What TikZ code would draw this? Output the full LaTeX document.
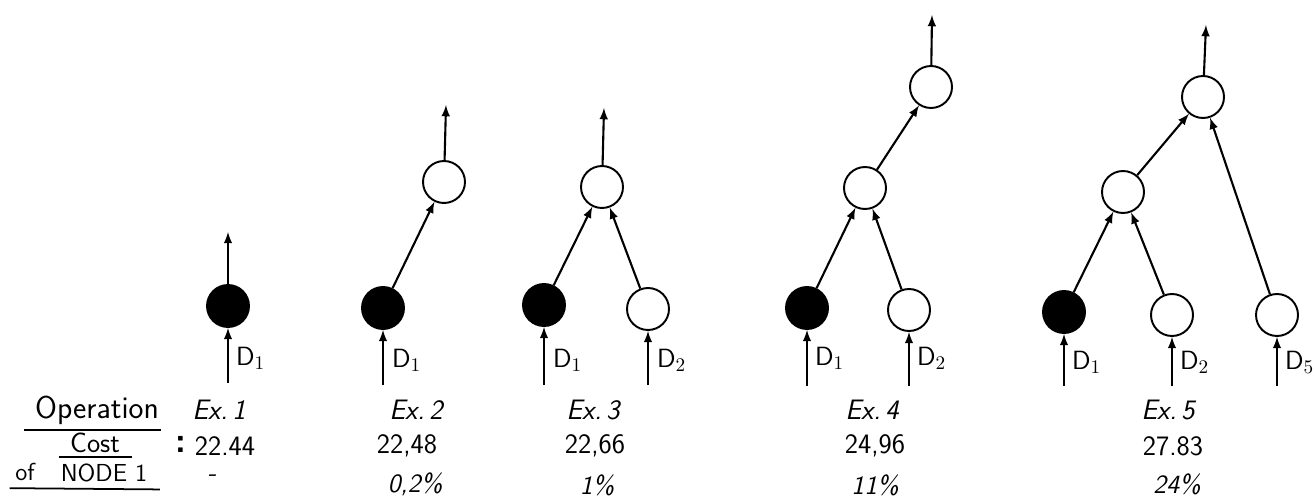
\documentclass[tikz,border=0pt]{standalone}
\usepackage{tikz}
\usetikzlibrary{arrows}
\usetikzlibrary{positioning}

\begin{document}
\begin{tikzpicture}[x=0.02cm,y=-0.02cm,>=latex,
  op/.style={circle,draw,line width=1.1pt,minimum size=0.84cm,inner sep=0pt},
  opfill/.style={op,fill=black},
  flow/.style={->,line width=1.2pt},
  rule/.style={line width=1pt},
  dlbl/.style={font=\sffamily\fontsize{15}{17}\selectfont,anchor=west,inner sep=1pt},
  exlbl/.style={font=\sffamily\itshape\fontsize{16}{18}\selectfont},
  cost/.style={font=\sffamily\fontsize{16}{18}\selectfont},
  pct/.style={font=\sffamily\itshape\fontsize{15}{17}\selectfont}]
\useasboundingbox (0,0) rectangle (1315,503);

% Ex. 1
\node[opfill] (a1) at (228,306) {};
\coordinate (a1in) at (228,383);
\coordinate (a1out) at (228,232);
\draw[flow] (a1in) -- (a1);
\draw[flow] (a1) -- (a1out);
\node[dlbl] (a1d) at (234,358) {D$_1$};

% Ex. 2
\node[opfill] (b1) at (383,308) {};
\node[op] (b2) at (444,182) {};
\coordinate (b1in) at (383,385);
\coordinate (b2out) at (446,105);
\draw[flow] (b1in) -- (b1);
\draw[flow] (b1) -- (b2);
\draw[flow] (b2) -- (b2out);
\node[dlbl] (b1d) at (390,360) {D$_1$};

% Ex. 3
\node[opfill] (c1) at (544,305) {};
\node[op] (c2) at (648,309) {};
\node[op] (c3) at (602,187) {};
\coordinate (c1in) at (544,385);
\coordinate (c2in) at (648,385);
\coordinate (c3out) at (604,108);
\draw[flow] (c1in) -- (c1);
\draw[flow] (c2in) -- (c2);
\draw[flow] (c1) -- (c3);
\draw[flow] (c2) -- (c3);
\draw[flow] (c3) -- (c3out);
\node[dlbl] (c1d) at (551,360) {D$_1$};
\node[dlbl] (c2d) at (655,360) {D$_2$};

% Ex. 4
\node[opfill] (d1) at (807,308) {};
\node[op] (d2) at (909,310) {};
\node[op] (d3) at (865,188) {};
\node[op] (d4) at (931,87) {};
\coordinate (d1in) at (807,386);
\coordinate (d2in) at (909,386);
\coordinate (d4out) at (932,15);
\draw[flow] (d1in) -- (d1);
\draw[flow] (d2in) -- (d2);
\draw[flow] (d1) -- (d3);
\draw[flow] (d2) -- (d3);
\draw[flow] (d3) -- (d4);
\draw[flow] (d4) -- (d4out);
\node[dlbl] (d1d) at (813,358) {D$_1$};
\node[dlbl] (d2d) at (915,358) {D$_2$};

% Ex. 5
\node[opfill] (e1) at (1064,312) {};
\node[op] (e2) at (1172,315) {};
\node[op] (e3) at (1277,315) {};
\node[op] (e4) at (1123,192) {};
\node[op] (e5) at (1203,97) {};
\coordinate (e1in) at (1064,386);
\coordinate (e2in) at (1172,386);
\coordinate (e3in) at (1277,386);
\coordinate (e5out) at (1206,25);
\draw[flow] (e1in) -- (e1);
\draw[flow] (e2in) -- (e2);
\draw[flow] (e3in) -- (e3);
\draw[flow] (e1) -- (e4);
\draw[flow] (e2) -- (e4);
\draw[flow] (e4) -- (e5);
\draw[flow] (e3) -- (e5);
\draw[flow] (e5) -- (e5out);
\node[dlbl] (e1d) at (1070,362) {D$_1$};
\node[dlbl] (e2d) at (1178,362) {D$_2$};
\node[dlbl] (e3d) at (1283,362) {D$_5$};

% row heading
\node[font=\sffamily\fontsize{18}{20}\selectfont,inner sep=1pt] (opn) at (97,410) {Operation};
\draw[rule] ([xshift=-5pt,yshift=-2pt]opn.south west) -- ([yshift=-2pt]opn.south east);
\node[cost,inner sep=1pt] (cst) at (95,443) {Cost};
\node[font=\sffamily\fontsize{14}{16}\selectfont,inner sep=1pt] (nde) at (104,473) {NODE 1};
\node[font=\sffamily\fontsize{14}{16}\selectfont,inner sep=1pt] (of) at (25,472) {of};
\draw[rule] ([xshift=-0.18cm,yshift=-1pt]cst.south west) -- ([xshift=0.2cm,yshift=-1pt]cst.south east);
\draw[rule] ([xshift=-2pt,yshift=-3pt]of.south west) -- ([xshift=6pt,yshift=-3pt]nde.south east);
\node[font=\sffamily\bfseries\fontsize{20}{22}\selectfont] (col) at (181,444) {:};

% Ex labels, costs and ratios
\node[exlbl] (x1) at (219,410) {Ex.\,1};
\node[exlbl] (x2) at (416,410) {Ex.\,2};
\node[exlbl] (x3) at (593,410) {Ex.\,3};
\node[exlbl] (x4) at (872,410) {Ex.\,4};
\node[exlbl] (x5) at (1168,410) {Ex.\,5};
\node[cost] (k1) at (225,446) {22.44};
\node[cost] (k2) at (407,446) {22,48};
\node[cost] (k3) at (595,446) {22,66};
\node[cost] (k4) at (875,446) {24,96};
\node[cost] (k5) at (1173,446) {27.83};
\node[pct] (p1) at (212,478) {-};
\node[pct] (p2) at (415,484) {0,2\%};
\node[pct] (p3) at (597,485) {1\%};
\node[pct] (p4) at (875,485) {11\%};
\node[pct] (p5) at (1177,484) {24\%};
\end{tikzpicture}
\end{document}
